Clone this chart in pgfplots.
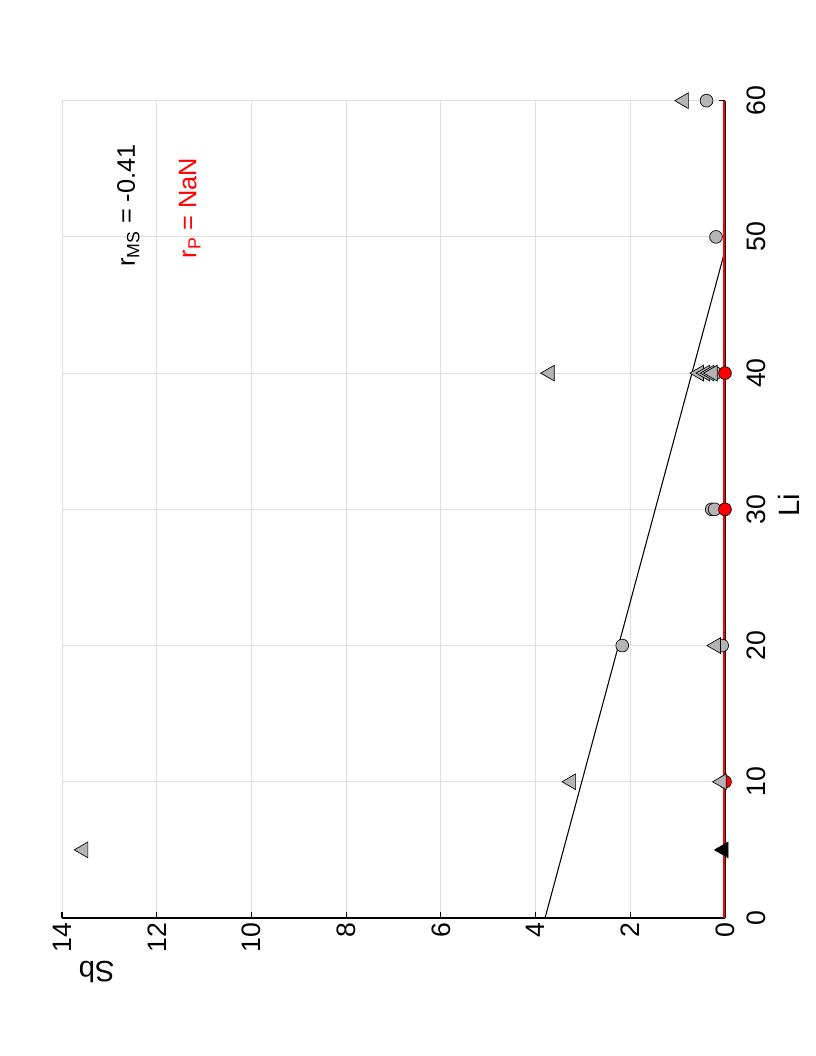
\documentclass[border=0pt]{standalone}
\usepackage{fontspec}
\setmainfont{Liberation Sans}
\usepackage{graphicx}
\usepackage{pgfplots}
\pgfplotsset{compat=1.18}
\definecolor{mgray}{RGB}{180,180,180}
\definecolor{gridc}{RGB}{223,223,223}
\definecolor{edgered}{RGB}{110,0,0}
\begin{document}
\rotatebox{90}{%
\begin{tikzpicture}
\path[use as bounding box] (-103.5pt,-68.25pt) rectangle (688.5pt,543.75pt);
\begin{axis}[
  at={(0,0)}, anchor=south west,
  scale only axis, width=613pt, height=497.25pt,
  xmin=0, xmax=60, ymin=0, ymax=14,
  xtick={0,10,...,60}, ytick={0,2,...,14},
  axis x line=bottom, axis y line=left,
  axis line style={-, line width=0.8pt},
  grid=major, grid style={gridc, line width=0.6pt},
  tick align=inside, major tick length=4.5pt,
  tick style={black, line width=0.8pt},
  ticklabel style={font=\fontsize{20}{24}\selectfont},
  /pgf/number format/assume math mode=true,
  xticklabel style={yshift=-13pt},
  clip=false,
  xlabel={Li},
  xlabel style={at={(rel axis cs:0.505,-0.096)}, anchor=center, font=\fontsize{22}{26}\selectfont},
  ylabel={Sb},
  ylabel style={at={(rel axis cs:-0.0661,0.9477)}, anchor=center, font=\fontsize{22}{26}\selectfont},
]
% red circle under triangle at Li=10
\addplot[only marks, mark=*, mark size=4.8pt, mark options={fill=red, draw=black, line width=0.5pt}]
  coordinates {(10,0.0)};
% gray circles
\addplot[only marks, mark=*, mark size=4.8pt, mark options={fill=mgray, draw=black, line width=0.5pt}]
  coordinates {(20,2.17) (20,0.06) (30,0.28) (30,0.22) (40,0.2) (50,0.19) (60,0.39)};
% gray triangles
\addplot[only marks, mark=triangle*, mark size=6.8pt, mark options={fill=mgray, draw=black, line width=0.5pt}]
  coordinates {(5,13.55) (10,3.25) (10,0.07) (20,0.19) (40,3.7) (40,0.55) (40,0.42) (40,0.33) (40,0.26) (60,0.87)};
% red circles
\addplot[only marks, mark=*, mark size=4.8pt, mark options={fill=red, draw=black, line width=0.5pt}]
  coordinates {(30,0.0) (40,0.0)};
% black triangle
\addplot[only marks, mark=triangle*, mark size=6.8pt, mark options={fill=black, draw=black, line width=0.5pt}]
  coordinates {(5,0.03)};
% regression line
\addplot[black, line width=0.8pt] coordinates {(0,3.8) (49,0)};
% red line
\addplot[edgered, line width=1.9pt] coordinates {(0,0.02) (60,0.02)};
\addplot[red, line width=1.0pt] coordinates {(0,0.02) (60,0.02)};
\node[anchor=west, inner sep=0pt, font=\fontsize{19}{23}\selectfont] at (axis cs:47.8,12.6) {r\textsubscript{MS} = -0.41};
\node[anchor=west, inner sep=0pt, text=red, font=\fontsize{19}{23}\selectfont] at (axis cs:48.4,11.3) {r\textsubscript{P} = NaN};
\end{axis}
\end{tikzpicture}}
\end{document}
